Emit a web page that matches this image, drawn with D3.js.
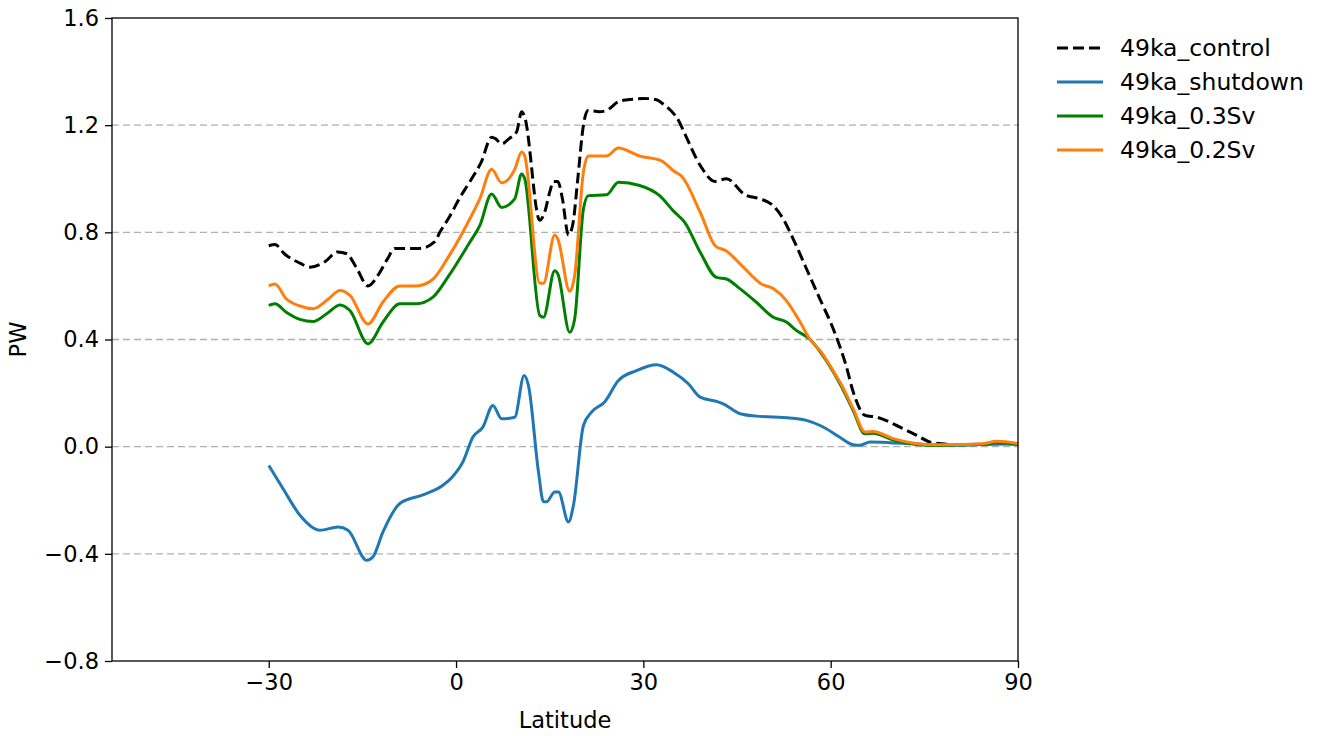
<html>
<head>
<meta charset="utf-8">
<title>PW by latitude</title>
</head>
<script src="https://d3js.org/d3.v7.min.js"></script>
<body style="margin:0;background:#fff">
<svg class="chart"></svg>
<script>

    // values, per series
    var controlLat = [-30, -29, -27.5, -25, -23.4, -21, -19, -17.5, -16, -14.1, -12.5, -11, -9.8, -7.5, -5.8, -3.4, -2.6, -1, 0.5, 2.5, 4, 5.7, 6.3, 7.3, 8.5, 9.7, 10.5, 11, 13.4, 14.2, 15, 15.6, 16.3, 17, 18, 18.7, 19.5, 20.4, 21.1, 23, 24.1, 26.2, 28.3, 30, 32.1, 33.1, 35.8, 36.6, 39.1, 41.5, 43.3, 46.3, 48.7, 50.5, 52.4, 54, 56.1, 58.3, 60.4, 62.5, 63.6, 65.5, 67.4, 71.1, 73.8, 76.2, 80, 85, 88, 90];
    var control = [0.75, 0.755, 0.72, 0.685, 0.67, 0.69, 0.727, 0.72, 0.67, 0.60, 0.64, 0.70, 0.74, 0.74, 0.74, 0.765, 0.80, 0.86, 0.925, 1.0, 1.06, 1.155, 1.15, 1.13, 1.15, 1.175, 1.25, 1.23, 0.845, 0.875, 0.95, 0.99, 0.99, 0.93, 0.79, 0.83, 1.0, 1.2, 1.255, 1.25, 1.255, 1.29, 1.297, 1.30, 1.295, 1.28, 1.21, 1.17, 1.05, 0.99, 1.0, 0.94, 0.925, 0.905, 0.85, 0.775, 0.665, 0.55, 0.44, 0.30, 0.205, 0.117, 0.11, 0.073, 0.042, 0.015, 0.008, 0.01, 0.015, 0.01];

    var shutdownLat = [-30, -27.7, -25, -21.8, -18.9, -17.3, -14.3, -13.3, -11.7, -9, -5.3, -2.1, -0.6, 1.1, 2.7, 4.3, 5.9, 7.3, 9.4, 10.9, 11.6, 13.2, 14, 14.5, 15.8, 16.4, 18, 18.8, 20.4, 21.7, 23.8, 26, 28.9, 32.1, 34.8, 37.2, 39.1, 41.7, 42.8, 45.5, 48.1, 53.5, 56.1, 59.3, 61.4, 63.6, 64.7, 66.3, 69.5, 75, 80, 85, 88, 90];
    var shutdown = [-0.07, -0.157, -0.256, -0.312, -0.30, -0.312, -0.424, -0.411, -0.318, -0.212, -0.18, -0.144, -0.113, -0.057, 0.036, 0.073, 0.154, 0.104, 0.11, 0.266, 0.228, -0.094, -0.206, -0.206, -0.169, -0.169, -0.281, -0.219, 0.079, 0.129, 0.167, 0.247, 0.284, 0.306, 0.278, 0.235, 0.185, 0.169, 0.16, 0.123, 0.114, 0.107, 0.098, 0.067, 0.036, 0.007, 0.005, 0.017, 0.015, 0.008, 0.006, 0.008, 0.01, 0.008];

    var sv03Lat = [-30, -29, -27.2, -25, -22.9, -20.5, -18.6, -17, -14.1, -11.7, -9, -6.4, -3.7, -1.1, 2.2, 3.8, 5.7, 7.3, 9.4, 10.5, 11, 13.4, 14, 15.8, 16.3, 18.2, 19, 20.4, 21.2, 24.1, 26, 29.4, 32.6, 34.8, 36.6, 39.1, 41.7, 43.3, 45.5, 48.1, 50.8, 52.9, 54.5, 56.7, 58.3, 60.4, 61.7, 63.6, 65.5, 66.8, 70, 73.8, 76.4, 80, 84.4, 86.6, 90];
    var sv03 = [0.527, 0.533, 0.502, 0.475, 0.467, 0.50, 0.529, 0.508, 0.384, 0.465, 0.533, 0.533, 0.558, 0.64, 0.763, 0.825, 0.943, 0.893, 0.925, 1.018, 1.0, 0.49, 0.483, 0.657, 0.645, 0.427, 0.477, 0.887, 0.937, 0.94, 0.987, 0.975, 0.937, 0.88, 0.838, 0.726, 0.632, 0.626, 0.589, 0.539, 0.483, 0.465, 0.434, 0.40, 0.355, 0.28, 0.225, 0.135, 0.048, 0.05, 0.025, 0.008, 0.004, 0.006, 0.009, 0.016, 0.01];

    var sv02Lat = [-30, -29, -27.2, -25, -22.9, -20.5, -18.6, -17, -14.1, -11.7, -9, -6.4, -3.7, -1.1, 2.2, 3.8, 5.7, 7.3, 9.4, 10.5, 11, 13.4, 14, 15.8, 16.3, 18.2, 19, 20.4, 21.2, 24.1, 26, 29.4, 32.9, 34.8, 36.1, 39.1, 41.5, 43.3, 46, 48.9, 50.8, 52.9, 55.1, 56.7, 58.5, 60.4, 61.7, 63.6, 65.5, 66.8, 70, 73.8, 76.4, 80, 84.4, 86.6, 90];
    var sv02 = [0.60, 0.607, 0.552, 0.525, 0.515, 0.55, 0.583, 0.565, 0.458, 0.54, 0.60, 0.60, 0.625, 0.713, 0.85, 0.925, 1.035, 0.985, 1.035, 1.10, 1.085, 0.61, 0.61, 0.79, 0.775, 0.58, 0.64, 1.025, 1.085, 1.085, 1.115, 1.085, 1.067, 1.03, 1.01, 0.875, 0.75, 0.73, 0.67, 0.607, 0.59, 0.545, 0.465, 0.40, 0.353, 0.283, 0.232, 0.142, 0.055, 0.057, 0.03, 0.011, 0.007, 0.008, 0.011, 0.02, 0.012];

    var yTicks = [-0.8, -0.4, 0.0, 0.4, 0.8, 1.2, 1.6];
    var xTicks = [-30, 0, 30, 60, 90];

    var series = [
        { name: '49ka_control', lat: controlLat, val: control, color: '#000000', dash: '11,5' },
        { name: '49ka_shutdown', lat: shutdownLat, val: shutdown, color: '#1f77b4', dash: null },
        { name: '49ka_0.3Sv', lat: sv03Lat, val: sv03, color: '#008000', dash: null },
        { name: '49ka_0.2Sv', lat: sv02Lat, val: sv02, color: '#ff7f0e', dash: null }
    ];

    var svgWidth = 1318, svgHeight = 736;
    var plotL = 112, plotR = 1018, plotT = 18, plotB = 661;
    var font = 'DejaVu Sans, sans-serif';
    var minus = function (s) { return String(s).replace('-', '\u2212'); };

    var xScale = d3.scaleLinear().domain([-55.1, 90]).range([plotL, plotR]);
    var yScale = d3.scaleLinear().domain([-0.8, 1.6]).range([plotB, plotT]);

    var svg = d3.select('svg')
        .attr('width', svgWidth)
        .attr('height', svgHeight)
        .style('display', 'block');

    // grid
    svg.append('g')
        .selectAll('line')
        .data(yTicks.slice(1, -1))
        .enter()
        .append('line')
        .attr('x1', plotL).attr('x2', plotR)
        .attr('y1', function (d) { return yScale(d); })
        .attr('y2', function (d) { return yScale(d); })
        .attr('stroke', '#b0b0b0')
        .attr('stroke-width', 1.4)
        .attr('stroke-dasharray', '7,4');

    // lines
    var line = d3.line()
        .x(function (d) { return xScale(d[0]); })
        .y(function (d) { return yScale(d[1]); })
        .curve(d3.curveMonotoneX);

    series.forEach(function (s) {
        var pts = s.lat.map(function (x, i) { return [x, s.val[i]]; });
        svg.append('path')
            .datum(pts)
            .attr('d', line)
            .attr('fill', 'none')
            .attr('stroke', s.color)
            .attr('stroke-width', 3)
            .attr('stroke-linejoin', 'round')
            .attr('stroke-dasharray', s.dash);
    });

    // axes
    var xAxis = svg.append('g')
        .attr('transform', 'translate(0,' + plotB + ')')
        .call(d3.axisBottom(xScale).tickValues(xTicks).tickSize(7).tickPadding(6)
            .tickFormat(minus));
    var yAxis = svg.append('g')
        .attr('transform', 'translate(' + plotL + ',0)')
        .call(d3.axisLeft(yScale).tickValues(yTicks).tickSize(7).tickPadding(6)
            .tickFormat(function (d) { return minus(d.toFixed(1)); }));

    [xAxis, yAxis].forEach(function (g) {
        g.select('.domain').remove();
        g.selectAll('line').attr('stroke', '#000').attr('stroke-width', 1.3);
        g.selectAll('text').attr('fill', '#000').style('font-family', font).style('font-size', '22.5px');
    });

    // frame
    svg.append('rect')
        .attr('x', plotL).attr('y', plotT)
        .attr('width', plotR - plotL).attr('height', plotB - plotT)
        .attr('fill', 'none')
        .attr('stroke', '#000')
        .attr('stroke-width', 1.3);

    svg.append('text')
        .text('Latitude')
        .attr('x', (plotL + plotR) / 2)
        .attr('y', 728)
        .attr('text-anchor', 'middle')
        .style('font-family', font).style('font-size', '22.5px');

    svg.append('text')
        .text('PW')
        .attr('transform', 'translate(26,' + (plotT + plotB) / 2 + ') rotate(-90)')
        .attr('text-anchor', 'middle')
        .style('font-family', font).style('font-size', '22.5px');

    // legend
    var legend = svg.append('g').attr('transform', 'translate(1057,48)');
    series.forEach(function (s, i) {
        legend.append('line')
            .attr('x1', 0).attr('x2', 46)
            .attr('y1', i * 34).attr('y2', i * 34)
            .attr('stroke', s.color)
            .attr('stroke-width', 3)
            .attr('stroke-dasharray', s.dash);
        legend.append('text')
            .text(s.name)
            .attr('x', 63)
            .attr('y', i * 34)
            .attr('dy', '0.35em')
            .style('font-family', font).style('font-size', '23.5px');
    });

</script>
</body>
</html>
